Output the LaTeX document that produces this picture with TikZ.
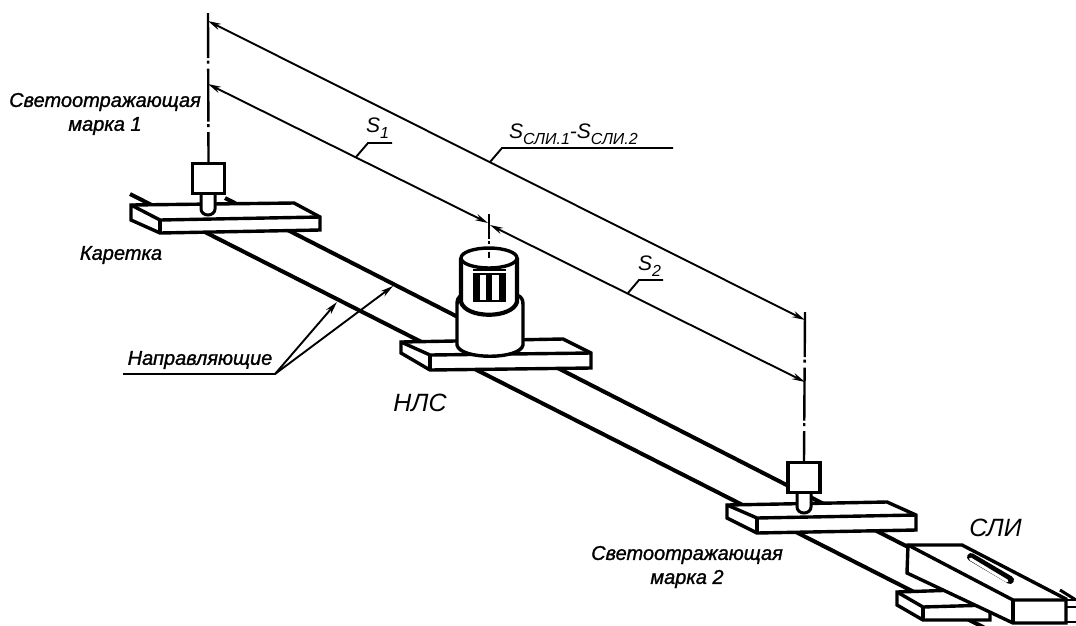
\documentclass[tikz,border=0pt]{standalone}
\usepackage{fontspec}
\setmainfont{Liberation Sans}
\newfontfamily\markfont[ItalicFeatures={FakeBold=1.2}]{Liberation Sans}
\usetikzlibrary{arrows.meta,shapes.geometric}
\tikzset{
  rail/.style={line width=4pt},
  part/.style={line width=3.4pt,line join=miter,fill=white},
  sketch/.style={line width=3pt,line join=round},
  dimline/.style={line width=1.9pt},
  axisline/.style={line width=2.4pt,dash pattern=on 45pt off 2.5pt on 3pt off 5pt on 53pt off 2.5pt on 3pt off 5pt on 60pt off 0pt},
  marktext/.style={font=\markfont\itshape\fontsize{20}{22}\selectfont,inner sep=0pt},
  bigtext/.style={font=\itshape\fontsize{25}{28}\selectfont,inner sep=0pt},
  dimtext/.style={font=\itshape\fontsize{21}{24}\selectfont,inner sep=0pt,anchor=base west},
  >={Stealth[length=13pt,width=6.5pt]}
}
\newcommand{\subidx}[1]{\raisebox{-0.3em}{\fontsize{16}{18}\selectfont #1}}
\begin{document}
\begin{tikzpicture}[x=1pt,y=-1pt]
\useasboundingbox (0,0) rectangle (1076,625);

\coordinate (railA0) at (130,194);
\coordinate (railA1) at (985,628);
\coordinate (railB0) at (225,198);
\coordinate (railB1) at (908,547);
\draw[rail] (railA0) -- (railA1);
\draw[rail] (railB0) -- (railB1);

% carriage 1
\draw[part] (131,205) -- (294,203) -- (320,217) -- (320,230) -- (160,233) -- (131,220) -- cycle;
\draw[part,fill=none] (131,205) -- (160,220) -- (320,217);
\draw[part,fill=none] (160,220) -- (160,233);
\draw[part,line width=3pt] (201,195) -- (201,209) arc[start angle=180,end angle=0,x radius=7,y radius=6] -- (215,195);
\node[draw,line width=3.4pt,fill=white,minimum width=32pt,minimum height=30pt,inner sep=0pt] (boxA) at (208.5,178.5) {};
\coordinate (axisAtop) at (208,13);
\draw[axisline] (axisAtop) -- (boxA.north);

% head on the middle carriage
\draw[part] (401,342) -- (563,339) -- (591,353) -- (591,368) -- (430,370) -- (401,353) -- cycle;
\draw[part,fill=none] (401,342) -- (430,355) -- (591,353);
\draw[part,fill=none] (430,355) -- (430,370);
\draw[part] (461,295) .. controls (458,297) and (457,300) .. (457,305) -- (457,345)
  .. controls (460,360) and (520,360) .. (523,345) -- (523,305) .. controls (523,300) and (522,297) .. (517,295) -- cycle;
\draw[part,line width=4.2pt] (461,258) -- (461,302) .. controls (466,319) and (512,319) .. (517,302) -- (517,258);
\fill (473,273) rectangle (506,302);
\draw[line width=1.5pt] (473,270) -- (506,270);
\fill[white] (480,275) rectangle (486,300);
\fill[white] (492,275) rectangle (499,300);
\node[draw,ellipse,line width=3.4pt,fill=white,minimum width=56pt,minimum height=20pt,inner sep=0pt] (topC) at (489,258) {};
\coordinate (axisCtop) at (489,214);
\coordinate (axisCend) at (489,258);
\draw[dimline,dash pattern=on 25pt off 2pt on 2.5pt off 3pt on 3pt off 2pt on 20pt] (axisCtop) -- (axisCend);

% carriage 2
\draw[part] (727,505) -- (887,502) -- (916,515) -- (916,530) -- (757,533) -- (727,518) -- cycle;
\draw[part,fill=none] (727,505) -- (757,518) -- (916,515);
\draw[part,fill=none] (757,518) -- (757,533);
\draw[part,line width=3pt] (797,493) -- (797,507) arc[start angle=180,end angle=0,x radius=7,y radius=6] -- (811,493);
\node[draw,line width=3.4pt,fill=white,minimum width=32pt,minimum height=30pt,inner sep=0pt] (boxB) at (804,477.5) {};
\coordinate (axisBtop) at (805,312);
\draw[axisline] (axisBtop) -- (boxB.north);

% instrument at the end
\draw[sketch] (1060,590) -- (1076,600);
\draw[sketch,line width=2.2pt] (1066,600) -- (1076,600);
\draw[sketch,line width=2.2pt] (1066,607) -- (1076,607);
\draw[sketch,line width=2.2pt] (1066,622) -- (1076,622);
\draw[part] (897,592) -- (958,590) -- (990,607) -- (990,620) -- (923,620) -- (897,605) -- cycle;
\draw[part,fill=none] (897,592) -- (923,607) -- (990,605);
\draw[part,fill=none] (923,607) -- (923,620);
\draw[part] (908,545) -- (962,545) -- (1066,599) -- (1066,623) -- (1013,623) -- (907,573) -- cycle;
\draw[part,fill=none] (908,545) -- (1013,600) -- (1066,600);
\draw[part,fill=none] (1013,600) -- (1013,623);
\coordinate (slotA) at (971,557);
\coordinate (slotB) at (1010,580);
\draw[line width=8pt,line cap=round] (slotA) -- (slotB);
\draw[white,line width=3pt,line cap=round] ([shift={(-0.5,2)}]slotA) -- ([shift={(-3,1)}]slotB);

% dimensions
\coordinate (dimAup) at (208,21);
\coordinate (dimBup) at (805,320);
\coordinate (dimAlow) at (208,84);
\coordinate (dimCl) at (488,223);
\coordinate (dimCr) at (490,225);
\coordinate (dimBlow) at (805,382);
\draw[dimline,<->] (dimAup) -- (dimBup);
\draw[dimline,<->] (dimAlow) -- (dimCl);
\draw[dimline,<->] (dimCr) -- (dimBlow);

\coordinate (legS1) at (356,157);
\coordinate (legS2) at (628,293);
\coordinate (legS3) at (490,162);
\draw[dimline] (legS1) -- (368,143) -- (392,143);
\draw[dimline] (legS2) -- (639,280) -- (663,280);
\draw[dimline] (legS3) -- (502,148) -- (673,148);

\coordinate (guideA) at (337,302);
\coordinate (guideB) at (393,286);
\coordinate (guideKnee) at (275,374);
\coordinate (guideEnd) at (123,374);
\draw[dimline,->] (guideEnd) -- (guideKnee) -- (guideA);
\draw[dimline,->] (guideKnee) -- (guideB);

% labels
\node[marktext] (mark1a) at (105,102) {Светоотражающая};
\node[marktext] (mark1b) at (105,126) {марка 1};
\node[marktext] (carriage) at (121,255) {Каретка};
\node[marktext] (guides) at (200,360) {Направляющие};
\node[marktext] (mark2a) at (687,555) {Светоотражающая};
\node[marktext] (mark2b) at (687,579) {марка 2};
\node[bigtext] (nls) at (420,403) {НЛС};
\node[bigtext] (sli) at (995.5,528) {СЛИ};
\node[dimtext] (s1) at (366,132) {S\subidx{1}};
\node[dimtext] (s2) at (638,270) {S\subidx{2}};
\node[dimtext] (s3) at (509,138) {S\subidx{СЛИ.1}-S\subidx{СЛИ.2}};
\end{tikzpicture}
\end{document}
